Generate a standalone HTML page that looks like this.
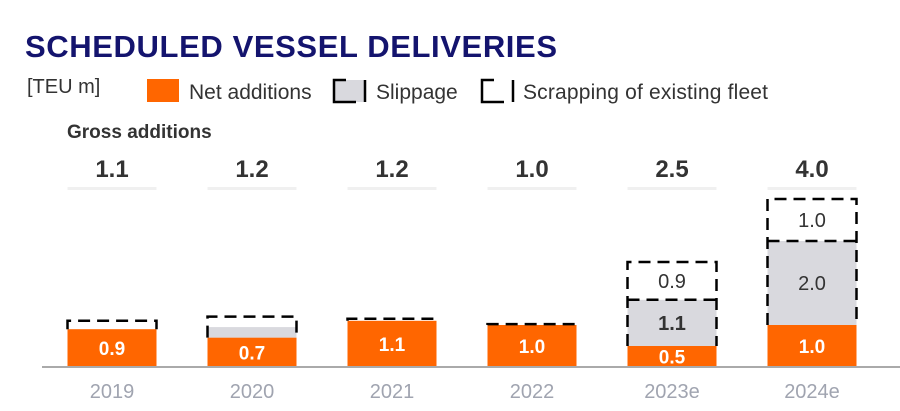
<!DOCTYPE html>
<html><head><meta charset="utf-8"><style>
body{margin:0;background:#fff;font-family:"Liberation Sans",Arial,sans-serif;}
</style></head><body>
<svg id="chart" width="900" height="406" viewBox="0 0 900 406" xmlns="http://www.w3.org/2000/svg">
<text x="25" y="57" font-size="31" font-weight="bold" fill="#14146e" textLength="532">SCHEDULED VESSEL DELIVERIES</text>
<text x="27" y="93" font-size="20" fill="#333">[TEU m]</text>
<g>
<rect x="147" y="79" width="32" height="23" fill="#ff6600"/>
<text x="189" y="99" font-size="21" fill="#333">Net additions</text>
<rect x="334" y="80" width="30" height="22" fill="#d9d9de"/>
<path d="M346 80H334V102H356M365 80V102" stroke="#000" stroke-width="2.5" fill="none"/>
<text x="376" y="99" font-size="21" fill="#333">Slippage</text>
<path d="M494 80H482V102H504M513 80V102" stroke="#000" stroke-width="2.5" fill="none"/>
<text x="523" y="99" font-size="21" fill="#333" textLength="245">Scrapping of existing fleet</text>
</g>
<text x="67" y="138" font-size="19" font-weight="bold" fill="#333">Gross additions</text>
<g id="bars"></g>
<line x1="42" y1="367" x2="900" y2="367" stroke="#aaa" stroke-width="2"/>
</svg>
<script>
const categories=["2019","2020","2021","2022","2023e","2024e"];
const netAdditions=[0.9,0.7,1.1,1.0,0.5,1.0];
const slippage=[0,0.25,0,0,1.1,2.0];
const scrapping=[0.2,0.25,0.05,0.02,0.9,1.0];
const grossLabels=["1.1","1.2","1.2","1.0","2.5","4.0"];
const showSegLabels=[false,false,false,false,true,true];
const NS="http://www.w3.org/2000/svg";
const g=document.getElementById('bars');
const base=367,unit=42,bw=89;
const xc=i=>112+i*140;
const y=v=>base-v*unit;
function mk(t,a){const e=document.createElementNS(NS,t);for(const k in a)e.setAttribute(k,a[k]);g.appendChild(e);return e;}
categories.forEach((c,i)=>{
 const x0=xc(i)-bw/2;
 const n=netAdditions[i],s=slippage[i],sc=scrapping[i];
 const r1=mk('rect',{x:x0,y:y(n),width:bw,height:n*unit,fill:'#ff6600'});
 
 
 if(s>0){const r2=mk('rect',{x:x0,y:y(n+s),width:bw,height:s*unit,fill:'#d9d9de'});
 
 }
 const top=y(n+s+sc);
 const d=mk('path',{d:`M${x0} ${y(n)}V${top}H${x0+bw}V${y(n)}`+(s>0&&showSegLabels[i]?`M${x0} ${y(n+s)}H${x0+bw}`:''),stroke:'#000','stroke-width':2.5,fill:'none','stroke-dasharray':'12,7'});
 
 
 const t1=mk('text',{x:xc(i),y:y(n/2)+7,'font-size':19,'font-weight':'bold',fill:'#fff','text-anchor':'middle'});
 t1.textContent=n.toFixed(1);
 
 
 if(showSegLabels[i]){
  const t2=mk('text',{x:xc(i),y:y(n+s/2)+7,'font-size':20,'font-weight':i==4?'bold':'normal',fill:'#333','text-anchor':'middle'});
  t2.textContent=s.toFixed(1);
  
  
  const t3=mk('text',{x:xc(i),y:y(n+s+sc/2)+7,'font-size':20,fill:'#333','text-anchor':'middle'});
  t3.textContent=sc.toFixed(1);
  
  
 }
 const gl=mk('text',{x:xc(i),y:177,'font-size':24,'font-weight':'bold',fill:'#333','text-anchor':'middle'});
 gl.textContent=grossLabels[i];
 
 
 const ln=mk('rect',{x:x0,y:187,width:bw,height:3,fill:'#f0f0f0'});
 
 
 const xl=mk('text',{x:xc(i),y:398,'font-size':20,fill:'#a0a4b0','text-anchor':'middle'});
 xl.textContent=c;
 
 
});
</script>
</body></html>
